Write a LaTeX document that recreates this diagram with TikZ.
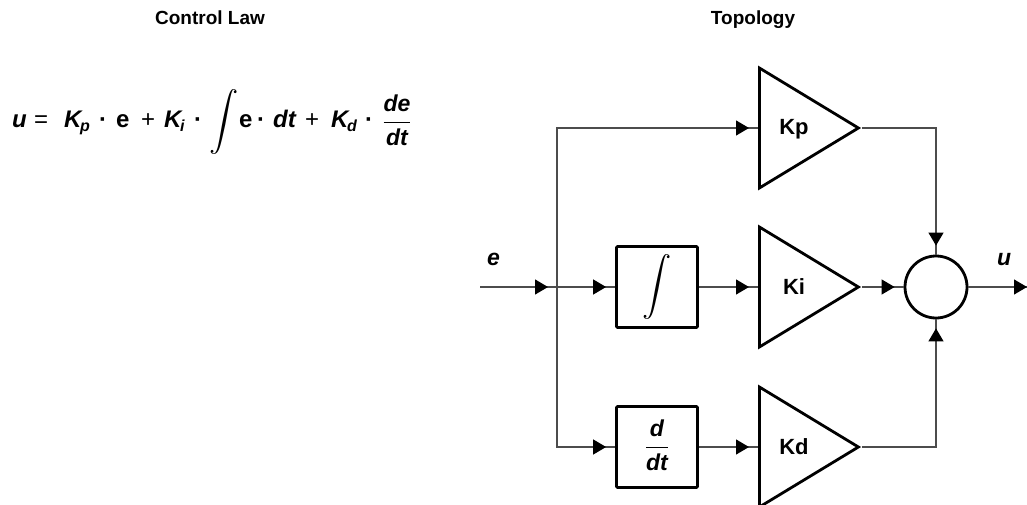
\documentclass[tikz,border=0pt]{standalone}
\usepackage{fontspec}
\setmainfont{Liberation Sans}
\usepackage{graphicx}
\usetikzlibrary{arrows.meta,decorations.markings,shapes.geometric,calc}
\newcommand{\bigint}[1]{\resizebox{!}{#1}{\raisebox{\depth}{$\displaystyle\int$}}}
\begin{document}
\begin{tikzpicture}[x=1pt,y=-1pt,
  conn/.style={draw=black!70, line width=1.2pt},
  arr/.style={postaction=decorate, decoration={markings,
     mark=at position -9pt with {\arrow{Triangle[length=13pt,width=15pt,black]}}}},
  arrend/.style={postaction=decorate, decoration={markings,
     mark=at position 1 with {\arrow{Triangle[length=13pt,width=15pt,black]}}}},
  gain/.style={draw=black, line width=2.8pt, isosceles triangle, isosceles triangle stretches,
     minimum width=120pt, minimum height=99pt, inner sep=0pt, anchor=lower side},
  gaintext/.style={anchor=base, inner sep=0pt, font=\fontsize{22}{26}\selectfont\bfseries},
  blockbox/.style={draw=black, line width=2.8pt, rounded corners=1pt, minimum width=81pt, minimum height=81pt, inner sep=0pt},
  sumnode/.style={draw=black, line width=2.8pt, circle, minimum size=62pt, inner sep=0pt},
  title/.style={anchor=base, inner sep=0pt, font=\fontsize{19}{23}\selectfont\bfseries},
  sig/.style={anchor=base west, inner sep=0pt, font=\fontsize{23}{28}\selectfont\bfseries\itshape},
  eqi/.style={anchor=base west, inner sep=0pt, font=\fontsize{24}{30}\selectfont\bfseries\itshape},
  equ/.style={anchor=base west, inner sep=0pt, font=\fontsize{24}{30}\selectfont\bfseries},
  eqop/.style={anchor=base west, inner sep=0pt, font=\fontsize{24}{30}\selectfont},
  eqdot/.style={anchor=base, inner sep=0pt, font=\fontsize{24}{30}\selectfont\bfseries},
  eqsub/.style={anchor=base west, inner sep=0pt, font=\fontsize{16}{20}\selectfont\bfseries\itshape},
  frac/.style={anchor=base, inner sep=0pt, font=\fontsize{23}{28}\selectfont\bfseries\itshape}
]
\useasboundingbox (0,0) rectangle (1027,505);

% titles
\node[title] (t1) at (210,25) {Control Law};
\node[title] (t2) at (753,25) {Topology};

% equation  u = Kp . e + Ki . int e . dt + Kd . de/dt
\node[eqi] (q1) at (12,128) {u};
\node[eqop] (q2) at (34,128) {=};
\node[eqi] (q3) at (64,128) {K};
\node[eqsub] (q4) at (80,132) {p};
\node[eqdot] (q5) at (103,128) {·};
\node[equ] (q6) at (116,128) {\bfseries e};
\node[eqop] (q7) at (141,128) {+};
\node[eqi] (q8) at (164,128) {K};
\node[eqsub] (q9) at (180,132) {i};
\node[eqdot] (q10) at (198,128) {·};
\node[anchor=north west, inner sep=0pt] (q11) at (209,89) {\bigint{65pt}};
\node[equ] (q12) at (239,128) {\bfseries e};
\node[eqdot] (q13) at (261,128) {·};
\node[eqi] (q14) at (273,128) {dt};
\node[eqop] (q15) at (305,128) {+};
\node[eqi] (q16) at (331,128) {K};
\node[eqsub] (q17) at (347,132) {d};
\node[eqdot] (q18) at (369,128) {·};
\node[frac] (q19) at (397,128) {$\displaystyle\frac{\hbox{de}}{\hbox{dt}}$};

% topology nodes
\coordinate (in) at (480,287);
\coordinate (split) at (557,287);
\coordinate (out) at (1027,287);

\node[gain] (kp) at (758,128) {};
\node[gain] (ki) at (758,287) {};
\node[gain] (kd) at (758,447) {};
\node[gaintext] (kpt) at (794,135) {Kp};
\node[gaintext] (kit) at (794,294) {Ki};
\node[gaintext] (kdt) at (794,454) {Kd};

\node[blockbox] (int) at (657,287) {\bigint{65pt}};
\node[blockbox] (der) at (657,447) {};
\node[frac] (dert) at (657,453) {$\displaystyle\frac{\hbox{d}}{\hbox{dt}}$};

\node[sumnode] (sum) at (936,287) {};

\node[sig] (e) at (487,265) {e};
\node[sig] (u) at (997,265) {u};

% connectors
\draw[conn,arr] (in) -- (split);
\draw[conn,arr] (split) |- (kp.lower side);
\draw[conn,arr] (split) -- (int.west);
\draw[conn,arr] (split) |- (der.west);
\draw[conn,arr] (int.east) -- (ki.lower side);
\draw[conn,arr] (der.east) -- (kd.lower side);
\draw[conn,arr] (kp.apex) -| (sum.north);
\draw[conn,arr] (ki.apex) -- (sum.west);
\draw[conn,arr] (kd.apex) -| (sum.south);
\draw[conn,arrend] (sum.east) -- (out);
\end{tikzpicture}
\end{document}
